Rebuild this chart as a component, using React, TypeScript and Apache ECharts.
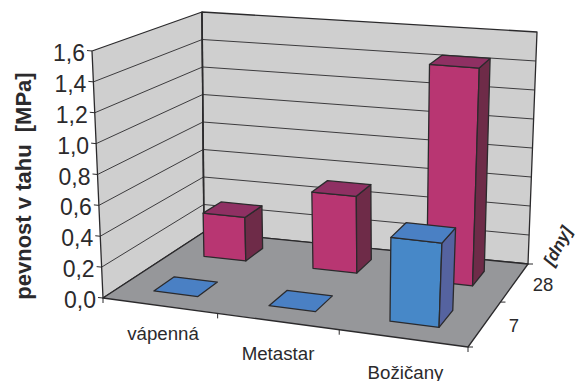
import React, { useEffect, useRef } from "react";
import * as echarts from "echarts";

// Chart content
const categories = ["vápenná", "Metastar", "Božičany"];
const depthLabels = ["7", "28"];
const strength7 = [0, 0, 0.53];
const strength28 = [0.3, 0.52, 1.45];
const valueTicks = [0, 0.2, 0.4, 0.6, 0.8, 1.0, 1.2, 1.4, 1.6];

const VALUE_MAX = 1.6;
const BAR_SHARE = 0.39;
const FONT = "Liberation Sans, Arial, sans-serif";
const INK = "#2b2a2c";

type Pt = [number, number];

// Screen corners of the box: front-left, front-right, back-right, back-left
const FLOOR: Pt[] = [[103, 298], [468, 347], [528, 264], [204, 232]];
const CEILING: Pt[] = [[92, 51], [483, 87], [537, 32], [202, 12]];
// Eases the foreshortening across the categories
const ACROSS_EASE = 0.018;

function homography(q: Pt[]) {
  const [[x0, y0], [x1, y1], [x2, y2], [x3, y3]] = q;
  const dx1 = x1 - x2, dx2 = x3 - x2, dx3 = x0 - x1 + x2 - x3;
  const dy1 = y1 - y2, dy2 = y3 - y2, dy3 = y0 - y1 + y2 - y3;
  const den = dx1 * dy2 - dx2 * dy1;
  const g = (dx3 * dy2 - dx2 * dy3) / den;
  const h = (dx1 * dy3 - dx3 * dy1) / den;
  const a = x1 - x0 + g * x1, b = x3 - x0 + h * x3;
  const d = y1 - y0 + g * y1, e = y3 - y0 + h * y3;
  return (u: number, v: number): Pt => {
    const w = g * u + h * v + 1;
    return [(a * u + b * v + x0) / w, (d * u + e * v + y0) / w];
  };
}

const floorAt = homography(FLOOR);
const ceilingAt = homography(CEILING);

// u: across the categories, t: share of the value range, v: front to back
function project(u: number, t: number, v: number): Pt {
  const eased = u + ACROSS_EASE * Math.sin(Math.PI * u);
  const f = floorAt(eased, v);
  const c = ceilingAt(eased, v);
  return [f[0] + (c[0] - f[0]) * t, f[1] + (c[1] - f[1]) * t];
}

const WIDTH = 575;
const HEIGHT = 381;

const face = (points: Pt[], fill: string) => ({
  type: "polygon",
  shape: { points },
  style: { fill, stroke: INK, lineWidth: 1.3, lineJoin: "round" },
});

const segment = (a: Pt, b: Pt, lineWidth = 0.9, stroke = INK) => ({
  type: "line",
  shape: { x1: a[0], y1: a[1], x2: b[0], y2: b[1] },
  style: { stroke, lineWidth },
});

const label = (text: string, x: number, y: number, size: number, align = "center", extra: any = {}) => ({
  type: "text",
  x,
  y,
  rotation: extra.rotation ?? 0,
  style: {
    text,
    x: 0,
    y: 0,
    fill: INK,
    font: `${extra.weight ?? "normal"} ${size}px ${FONT}`,
    textAlign: align,
    textVerticalAlign: "middle",
  },
});

function renderBox(_: any, api: any) {
  const share = (value: number) => 1 - api.coord([0, value])[1] / HEIGHT;
  const children: any[] = [
    face([project(0, 0, 0), project(0, 1, 0), project(0, 1, 1), project(0, 0, 1)], "#cfcfcf"),
    face([project(0, 0, 1), project(0, 1, 1), project(1, 1, 1), project(1, 0, 1)], "#cfcfcf"),
    face([project(0, 0, 0), project(1, 0, 0), project(1, 0, 1), project(0, 0, 1)], "#96979a"),
  ];
  valueTicks.forEach((tick) => {
    const t = share(tick);
    const front = project(0, t, 0);
    if (tick > 0 && tick < VALUE_MAX) {
      children.push(segment(front, project(0, t, 1)));
      children.push(segment(project(0, t, 1), project(1, t, 1)));
    }
    children.push(segment(front, [front[0] - 5, front[1] - 0.5], 1));
    children.push(
      label(tick.toFixed(1).replace(".", ","), front[0] - 7, front[1] + 2, 23, "right")
    );
  });
  children.push(segment(project(0, 0, 1), project(0, 1, 1), 1.6));
  categories.forEach((_c, i) => {
    const p = project(i / categories.length, 0, 0);
    children.push(segment(p, [p[0], p[1] + 5], 1));
  });
  const last = project(1, 0, 0);
  children.push(segment(last, [last[0], last[1] + 5], 1));
  depthLabels.forEach((_d, i) => {
    const p = project(1, 0, i / depthLabels.length);
    children.push(segment(p, [p[0] + 5, p[1]], 1));
  });
  const rear = project(1, 0, 1);
  children.push(segment(rear, [rear[0] + 5, rear[1]], 1));
  return { type: "group", children };
}

function renderBar(_: any, api: any) {
  const cx = api.coord([api.value(0), 0])[0] / WIDTH;
  const t = 1 - api.coord([0, api.value(1)])[1] / HEIGHT;
  const depth = api.value(2);
  const halfU = (BAR_SHARE / categories.length) / 2;
  const halfV = (BAR_SHARE / depthLabels.length) / 2;
  const cv = (depth + 0.5) / depthLabels.length;
  const u0 = cx - halfU, u1 = cx + halfU, v0 = cv - halfV, v1 = cv + halfV;
  const colors = depth === 0
    ? { front: "#4788c8", side: "#5563a0", top: "#4a80c4" }
    : { front: "#b83672", side: "#6e2b48", top: "#8f3063" };
  const children: any[] = [];
  if (t === 0) {
    children.push(face([project(u0, 0, v0), project(u1, 0, v0), project(u1, 0, v1), project(u0, 0, v1)], colors.top));
  } else {
    children.push(face([project(u0, t, v0), project(u1, t, v0), project(u1, 0, v0), project(u0, 0, v0)], colors.front));
    children.push(face([project(u1, t, v0), project(u1, t, v1), project(u1, 0, v1), project(u1, 0, v0)], colors.side));
    children.push(face([project(u0, t, v0), project(u0, t, v1), project(u1, t, v1), project(u1, t, v0)], colors.top));
  }
  return { type: "group", children };
}

function renderTitles() {
  return {
    type: "group",
    children: [
      label("vápenná", 163, 333, 18.7),
      label("Metastar", 278, 353, 18.7),
      label("Božičany", 405.5, 372, 18.7),
      label(depthLabels[1], 543, 284, 18.5),
      label(depthLabels[0], 514, 325, 18.5),
      label("pevnost v tahu  [MPa]", 23, 186, 22, "center", { weight: "bold", rotation: Math.PI / 2 }),
      label("[dny]", 558, 246, 17, "center", { weight: "italic bold", rotation: (62 * Math.PI) / 180 }),
    ],
  };
}

export default function App() {
  const ref = useRef<HTMLDivElement>(null);
  useEffect(() => {
    const chart = echarts.init(ref.current!, undefined, { renderer: "svg" });
    const barData = [
      ...strength28.map((v, i) => [i, v, 1]),
      ...strength7.map((v, i) => [i, v, 0]),
    ];
    chart.setOption({
      animation: false,
      backgroundColor: "#ffffff",
      grid: { left: 0, right: 0, top: 0, bottom: 0 },
      xAxis: { type: "category", data: categories, show: false },
      yAxis: { type: "value", min: 0, max: VALUE_MAX, interval: 0.2, show: false },
      series: [
        { type: "custom", renderItem: renderBox, data: [[0, 0]], encode: { x: 0, y: 1 }, clip: false, silent: true, z: 1 },
        {
          type: "custom",
          renderItem: renderBar,
          data: barData,
          dimensions: ["category", "strength", "depth"],
          encode: { x: 0, y: 1 },
          clip: false,
          silent: true,
          z: 2,
        },
        { type: "custom", renderItem: renderTitles, data: [[0, 0]], encode: { x: 0, y: 1 }, clip: false, silent: true, z: 3 },
      ],
    });
    return () => chart.dispose();
  }, []);
  return <div ref={ref} style={{ position: "fixed", left: 0, top: 0, width: WIDTH, height: HEIGHT }} />;
}
